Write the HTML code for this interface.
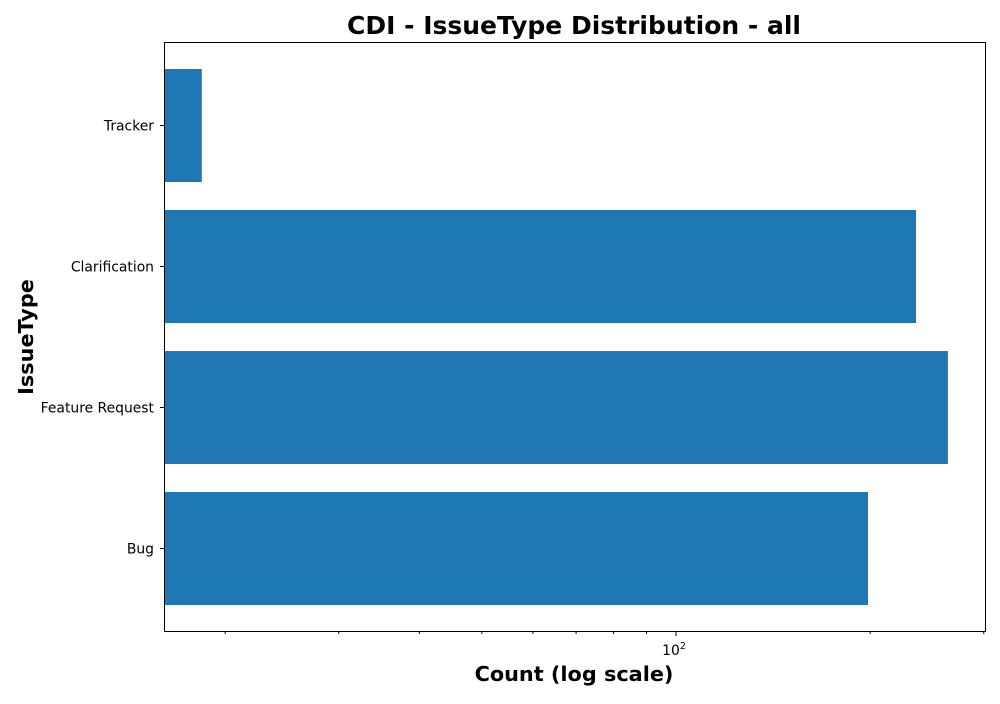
<!DOCTYPE html>
<html><head><meta charset="utf-8"><style>
body{margin:0;background:#fff;font-family:"DejaVu Sans","Liberation Sans",sans-serif}
</style></head><body>
<svg width="1000" height="700" xmlns="http://www.w3.org/2000/svg" font-family="DejaVu Sans, Liberation Sans, sans-serif">
<text x="574" y="34" text-anchor="middle" font-size="25" font-weight="bold">CDI - IssueType Distribution - all</text>
<g id="plot"></g>
<rect x="164.5" y="42.5" width="821" height="589" fill="none" stroke="#000" stroke-width="1"/>
<text x="574" y="681" text-anchor="middle" font-size="20.8" font-weight="bold">Count (log scale)</text>
<text transform="translate(33,337) rotate(-90)" text-anchor="middle" font-size="20.8" font-weight="bold">IssueType</text>
</svg>
<script>
const categories=["Tracker","Clarification","Feature Request","Bug"];
const counts=[18.4,235.6,264,198.5];
const L=164,R=985,T=42,B=631;
const ns="http://www.w3.org/2000/svg";
const g=document.getElementById('plot');
function x(v){return 676+(Math.log10(v)-2)*645;}
function mk(t,a){const e=document.createElementNS(ns,t);for(const k in a)e.setAttribute(k,a[k]);g.appendChild(e);return e;}
categories.forEach((c,i)=>{
  const yc=T+27+56.5+i*141;
  const r=mk('rect',{x:L,y:yc-56.5,width:x(counts[i])-L,height:113,fill:'#1f77b4'});
  
  
  const tk=mk('line',{x1:L-4,x2:L,y1:yc,y2:yc,stroke:'#000'});
  
  
  const t=mk('text',{x:L-10,y:yc+5,'text-anchor':'end','font-size':13.9});
  t.textContent=c;
  
  
});
const minor=[20,30,40,50,60,70,80,90,200,300];
minor.forEach(v=>{
  const l=mk('line',{x1:x(v),x2:x(v),y1:B,y2:B+3,stroke:'#000'});
  
  
});
const mt=mk('line',{x1:x(100),x2:x(100),y1:B,y2:B+5,stroke:'#000'});


const lab=mk('text',{x:x(100)-2,y:B+24,'text-anchor':'middle','font-size':13.9});
lab.innerHTML='10<tspan dy="-6" font-size="9.5">2</tspan>';


</script>
</body></html>
